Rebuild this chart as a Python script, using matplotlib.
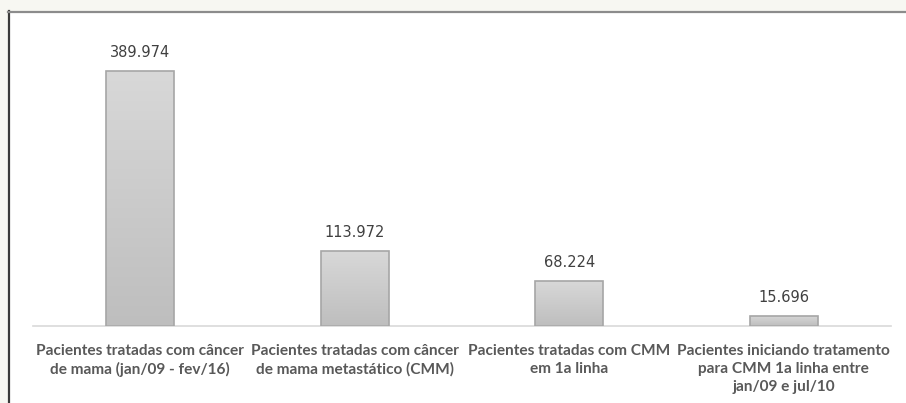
import numpy as np
import matplotlib.pyplot as plt
from matplotlib.colors import LinearSegmentedColormap
from matplotlib.patches import Rectangle
from matplotlib.lines import Line2D

categorias = [
    "Pacientes tratadas com câncer\nde mama (jan/09 - fev/16)",
    "Pacientes tratadas com câncer\nde mama metastático (CMM)",
    "Pacientes tratadas com CMM\nem 1a linha",
    "Pacientes iniciando tratamento\npara CMM 1a linha entre\njan/09 e jul/10",
]
pacientes = [389974, 113972, 68224, 15696]
rotulos = ["389.974", "113.972", "68.224", "15.696"]

plt.rcParams["font.family"] = ["Lato", "DejaVu Sans"]

W, H = 906, 403
fig = plt.figure(figsize=(W / 100, H / 100), dpi=100)
fig.patch.set_facecolor("#f7f7f2")

# white panel with a dark left edge and grey top edge
fig.add_artist(Rectangle((9 / W, 0), 1, 1 - 12 / H, transform=fig.transFigure,
                         facecolor="white", edgecolor="none", zorder=0))
fig.add_artist(Line2D([8.5 / W, 8.5 / W], [0, 1 - 11 / H], transform=fig.transFigure,
                      color="#3a3a3a", lw=1.6))
fig.add_artist(Line2D([8 / W, 1], [1 - 11.5 / H, 1 - 11.5 / H], transform=fig.transFigure,
                      color="#8c8c8c", lw=1.6))

ax = fig.add_axes([33 / W, 77 / H, 858 / W, 306 / H])
ax.set_facecolor("none")

x = np.arange(len(pacientes))
largura = 0.315
barras = ax.bar(x, pacientes, width=largura, facecolor="none",
                edgecolor="#a6a6a6", linewidth=1.2, zorder=3)

# vertical grey gradient inside each bar
grad = np.linspace(0, 1, 256).reshape(-1, 1)
cinza = LinearSegmentedColormap.from_list("cinza", ["#bebebe", "#d8d8d8"])
for b in barras:
    bx, by = b.get_x(), b.get_y()
    bw, bh = b.get_width(), b.get_height()
    im = ax.imshow(grad, cmap=cinza, origin="lower", aspect="auto",
                   extent=(bx, bx + bw, by, by + bh), zorder=2)
    im.set_clip_path(b)

for xi, v, r in zip(x, pacientes, rotulos):
    ax.annotate(r, (xi, v), xytext=(0, 8), textcoords="offset points",
                ha="center", va="bottom", fontsize=10.5, color="#404040",
                family="DejaVu Sans")

ax.set_xlim(-0.5, len(pacientes) - 0.5)
ax.set_ylim(0, 468000)
ax.set_xticks(x)
ax.set_xticklabels(categorias, fontsize=11.1, fontweight="bold", color="#595959",
                   linespacing=1.35)
ax.tick_params(axis="x", length=0, pad=13)
ax.set_yticks([])
for s in ["top", "left", "right"]:
    ax.spines[s].set_visible(False)
ax.spines["bottom"].set_color("#d9d9d9")
ax.spines["bottom"].set_linewidth(1.2)

fig.savefig("out.png", dpi=100, facecolor=fig.get_facecolor())
